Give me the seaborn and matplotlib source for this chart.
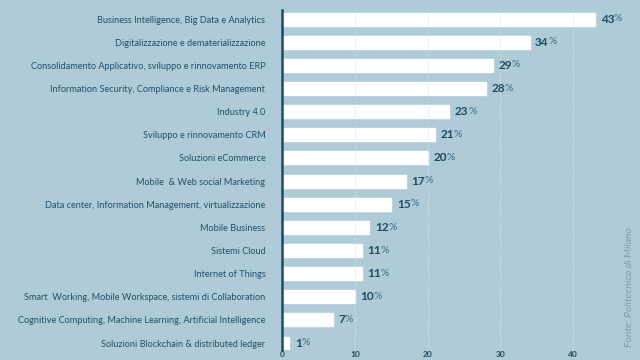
import matplotlib
matplotlib.use("Agg")
import matplotlib.pyplot as plt
import pandas as pd
import seaborn as sns

# data
categories = [
    "Business Intelligence, Big Data e Analytics",
    "Digitalizzazione e dematerializzazione",
    "Consolidamento Applicativo, sviluppo e rinnovamento ERP",
    "Information Security, Compliance e Risk Management",
    "Industry 4.0",
    "Sviluppo e rinnovamento CRM",
    "Soluzioni eCommerce",
    "Mobile  & Web social Marketing",
    "Data center, Information Management, virtualizzazione",
    "Mobile Business",
    "Sistemi Cloud",
    "Internet of Things",
    "Smart  Working, Mobile Workspace, sistemi di Collaboration",
    "Cognitive Computing, Machine Learning, Artificial Intelligence",
    "Soluzioni Blockchain & distributed ledger",
]
values = [43, 34, 29, 28, 23, 21, 20, 17, 15, 12, 11, 11, 10, 7, 1]
xticks = [0, 10, 20, 30, 40]
source = "Fonte: Politecnico di Milano"

bg = "#afcbd8"
dark = "#1d4a64"

sns.set_style("white")
plt.rcParams["font.family"] = ["Lato", "DejaVu Sans"]

df = pd.DataFrame({"cat": categories, "val": values})

fig = plt.figure(figsize=(6.4, 3.6), dpi=100, facecolor=bg)
ax = fig.add_axes([282 / 640, 10 / 360, 358 / 640, 340 / 360])
ax.set_facecolor(bg)

sns.barplot(data=df, x="val", y="cat", orient="h", color="white",
            width=0.56, saturation=1, ax=ax, zorder=2)

ax.set_xlim(0, 358 / 7.28)
ax.set_ylim(14.3, -0.39)

# dotted gridlines over the bars
for t in xticks[1:]:
    ax.axvline(t, color="#d4e2e9", lw=0.7, ls=(0, (1.5, 1.5)), zorder=3)

for s in ["top", "right", "bottom"]:
    ax.spines[s].set_visible(False)
ax.spines["left"].set_color(dark)
ax.spines["left"].set_linewidth(1.8)
ax.spines["left"].set_zorder(4)

ax.set_xlabel("")
ax.set_ylabel("")
ax.set_xticks(xticks)
ax.set_xticklabels([str(t) for t in xticks], fontsize=6, fontweight="bold", color=dark)
ax.tick_params(axis="x", length=0, pad=1)
ax.tick_params(axis="y", length=0, pad=12, labelsize=6.6, labelcolor="#1f4f6b")

# value labels: bold number + lighter percent sign
for i, v in enumerate(values):
    t = ax.annotate(str(v), xy=(v, i), xytext=(4, 0), textcoords="offset points",
                    ha="left", va="center", fontsize=8.5, fontweight="bold", color=dark)
    ax.annotate("%", xy=(1, 0.12), xycoords=t, xytext=(-0.3, 0), textcoords="offset points",
                ha="left", va="bottom", fontsize=7.5, color="#3d6d86")

fig.text(630 / 640, 1 - 287 / 360, source, rotation=90, ha="center", va="center",
         fontsize=7.5, style="italic", color="#7d9aaa")

fig.savefig("out.png", dpi=100, facecolor=bg)
